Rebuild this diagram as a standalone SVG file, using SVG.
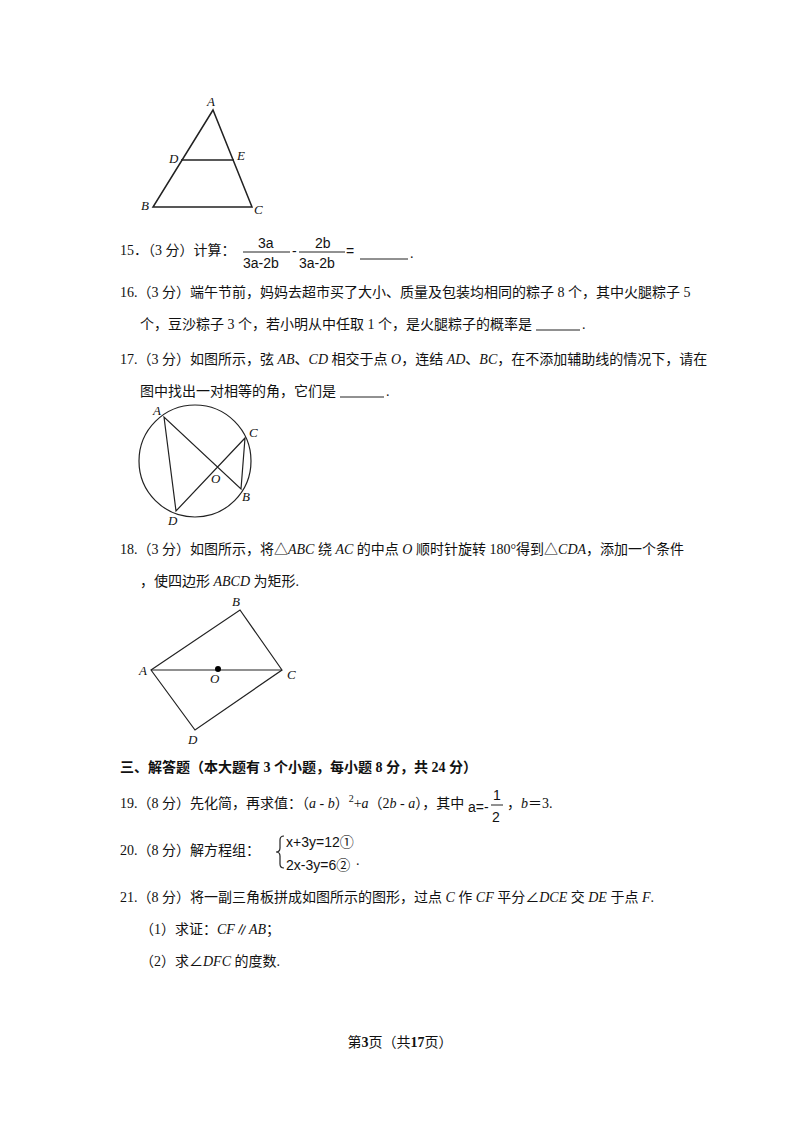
<svg xmlns="http://www.w3.org/2000/svg" width="800" height="1132" viewBox="0 0 800 1132">
<style>
text{font-family:"Liberation Serif","Noto Sans CJK SC",serif;font-size:14px;fill:#111}
.l{font-family:"Liberation Serif",serif;font-style:italic;font-size:13px}
.s{font-family:"Liberation Sans","Noto Sans CJK SC",sans-serif;font-size:14px}
.b{font-weight:bold}
line,polygon,circle.c,path{stroke:#222;stroke-width:1.5;fill:none}
</style>
<rect width="800" height="1132" fill="#fff"/>
<g id="fig14">
<polygon points="213,110 153,207 252,207"/>
<line x1="181" y1="160" x2="234" y2="160"/>
<text class="l" x="207" y="106">A</text><text class="l" x="169" y="163">D</text><text class="l" x="237" y="160">E</text>
<text class="l" x="141" y="210">B</text><text class="l" x="254" y="214">C</text>
</g>
<g id="q15">
<text x="120" y="255">15．（3 分）计算：</text>
<text class="s" x="258" y="248">3a</text><line x1="243" y1="252" x2="290" y2="252" style="stroke-width:1"/><text class="s" x="243" y="268">3a-2b</text>
<text class="s" x="292" y="256">-</text>
<text class="s" x="315" y="248">2b</text><line x1="299" y1="252" x2="345" y2="252" style="stroke-width:1"/><text class="s" x="299" y="268">3a-2b</text>
<text class="s" x="346" y="256">=</text><line x1="360" y1="259" x2="408" y2="259" style="stroke-width:1"/><text x="410" y="258">.</text>
</g>
<g id="q16">
<text x="120" y="297">16.（3 分）端午节前，妈妈去超市买了大小、质量及包装均相同的粽子 8 个，其中火腿粽子 5</text>
<text x="140" y="329">个，豆沙粽子 3 个，若小明从中任取 1 个，是火腿粽子的概率是</text>
<line x1="536" y1="330" x2="580" y2="330" style="stroke-width:1"/><text x="582" y="329">.</text>
</g>
<g id="q17">
<text x="120" y="364">17.（3 分）如图所示，弦 <tspan font-style="italic">AB</tspan>、<tspan font-style="italic">CD</tspan> 相交于点 <tspan font-style="italic">O</tspan>，连结 <tspan font-style="italic">AD</tspan>、<tspan font-style="italic">BC</tspan>，在不添加辅助线的情况下，请在</text>
<text x="140" y="396">图中找出一对相等的角，它们是</text>
<line x1="340" y1="397" x2="384" y2="397" style="stroke-width:1"/><text x="386" y="396">.</text>
</g>
<g id="fig17">
<circle class="c" cx="195" cy="461" r="56" style="stroke-width:1.2"/>
<polygon points="164,417 176,511 245,438 241,489" style="stroke-width:1.2"/>
<text class="l" x="153" y="415">A</text><text class="l" x="249" y="437">C</text><text class="l" x="242" y="501">B</text>
<text class="l" x="168" y="525">D</text><text class="l" x="211" y="483">O</text>
</g>
<g id="q18">
<text x="120" y="554">18.（3 分）如图所示，将△<tspan font-style="italic">ABC</tspan> 绕 <tspan font-style="italic">AC</tspan> 的中点 <tspan font-style="italic">O</tspan> 顺时针旋转 180°得到△<tspan font-style="italic">CDA</tspan>，添加一个条件</text>
<text x="140" y="586">，使四边形 <tspan font-style="italic">ABCD</tspan> 为矩形.</text>
</g>
<g id="fig18">
<polygon points="151,670 240,610 282,670 195,730" style="stroke-width:1.2"/>
<line x1="151" y1="670" x2="282" y2="670" style="stroke-width:1.2"/>
<circle cx="218" cy="669" r="3" fill="#000"/>
<text class="l" x="232" y="606">B</text><text class="l" x="139" y="675">A</text><text class="l" x="287" y="679">C</text>
<text class="l" x="210" y="683">O</text><text class="l" x="188" y="744">D</text>
</g>
<g id="sec3"><text class="b" x="120" y="772">三、解答题（本大题有 3 个小题，每小题 8 分，共 24 分）</text></g>
<g id="q19">
<text x="120" y="808">19.（8 分）先化简，再求值：（<tspan font-style="italic">a</tspan> - <tspan font-style="italic">b</tspan>）<tspan font-size="10" dy="-6">2</tspan><tspan dy="6">+<tspan font-style="italic">a</tspan>（2<tspan font-style="italic">b</tspan> - <tspan font-style="italic">a</tspan>），其中</tspan></text>
<text class="s" x="468" y="812">a=-</text><text class="s" x="493" y="800">1</text><line x1="491" y1="805" x2="503" y2="805" style="stroke-width:1"/><text class="s" x="492" y="822">2</text>
<text x="507" y="808">，<tspan font-style="italic">b</tspan>＝3.</text>
</g>
<g id="q20">
<text x="120" y="855">20.（8 分）解方程组：</text>
<path d="M284,836 q-4,0 -4,4 v8 q0,4 -4,4 q4,0 4,4 v8 q0,4 4,4" style="stroke-width:1.2"/>
<text class="s" x="286" y="847" font-size="13">x+3y=12①</text>
<text class="s" x="286" y="870" font-size="13">2x-3y=6②</text>
<text x="356" y="865">.</text>
</g>
<g id="q21">
<text x="120" y="902">21.（8 分）将一副三角板拼成如图所示的图形，过点 <tspan font-style="italic">C</tspan> 作 <tspan font-style="italic">CF</tspan> 平分∠<tspan font-style="italic">DCE</tspan> 交 <tspan font-style="italic">DE</tspan> 于点 <tspan font-style="italic">F</tspan>.</text>
<text x="140" y="934">（1）求证：<tspan font-style="italic">CF</tspan>∥<tspan font-style="italic">AB</tspan>；</text>
<text x="140" y="966">（2）求∠<tspan font-style="italic">DFC</tspan> 的度数.</text>
</g>
<g id="footer"><text x="400" y="1047" text-anchor="middle" font-size="13">第<tspan class="b">3</tspan>页（共<tspan class="b">17</tspan>页）</text></g>
</svg>
